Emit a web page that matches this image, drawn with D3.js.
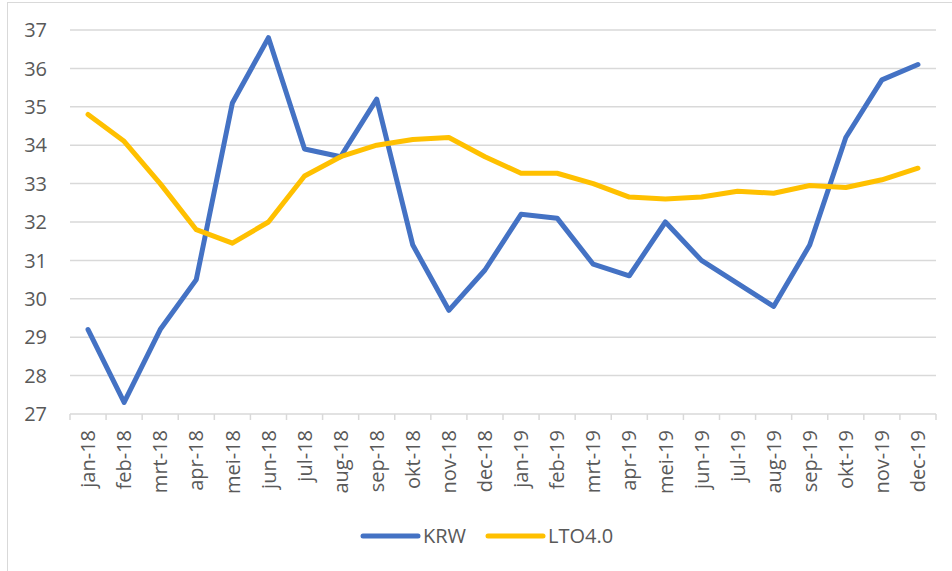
<!DOCTYPE html>
<html>
<head>
<meta charset="utf-8">
<script src="https://cdn.jsdelivr.net/npm/d3@7"></script>
<style>
  body { margin: 0; background: #fff; }
  svg text { font-family: "Open Sans", sans-serif; fill: #595959; }
</style>
</head>
<body>
<div id="chart"></div>
<script>
// months on the x axis
const months = ["jan-18","feb-18","mrt-18","apr-18","mei-18","jun-18","jul-18","aug-18","sep-18","okt-18","nov-18","dec-18",
                "jan-19","feb-19","mrt-19","apr-19","mei-19","jun-19","jul-19","aug-19","sep-19","okt-19","nov-19","dec-19"];

const krw = [29.2, 27.3, 29.2, 30.5, 35.1, 36.8, 33.9, 33.7, 35.2, 31.4, 29.7, 30.75,
             32.2, 32.1, 30.9, 30.6, 32.0, 31.0, 30.4, 29.8, 31.4, 34.2, 35.7, 36.1];

const lto = [34.8, 34.1, 33.0, 31.8, 31.45, 32.0, 33.2, 33.7, 34.0, 34.15, 34.2, 33.7,
             33.27, 33.27, 33.0, 32.65, 32.6, 32.65, 32.8, 32.75, 32.95, 32.9, 33.1, 33.4];

const yTicks = [27, 28, 29, 30, 31, 32, 33, 34, 35, 36, 37];

const series = [
    {name: "KRW", values: krw, color: "#4472C4"},
    {name: "LTO4.0", values: lto, color: "#FFC000"}
];

const width = 952, height = 571;
const margin = {top: 30, right: 16, bottom: 157, left: 70};

const svg = d3.select("#chart")
    .append("svg")
    .attr("width", width)
    .attr("height", height);

// outer chart border
svg.append("rect")
    .attr("x", 7.5).attr("y", 2.5)
    .attr("width", width).attr("height", height)
    .attr("fill", "none")
    .attr("stroke", "#d9d9d9")
    .attr("stroke-width", 1);

const x = d3.scaleBand()
    .domain(months)
    .range([margin.left, width - margin.right]);

const y = d3.scaleLinear()
    .domain([27, 37])
    .range([height - margin.bottom, margin.top]);

// gridlines
svg.append("g")
    .selectAll("line")
    .data(yTicks.slice(1))
    .enter().append("line")
    .attr("x1", margin.left).attr("x2", width - margin.right)
    .attr("y1", d => y(d)).attr("y2", d => y(d))
    .attr("stroke", "#d9d9d9")
    .attr("stroke-width", 1.5);

// y labels
svg.append("g")
    .selectAll("text")
    .data(yTicks)
    .enter().append("text")
    .attr("x", 47)
    .attr("y", d => y(d))
    .attr("dy", "0.36em")
    .attr("text-anchor", "end")
    .style("font-size", "20px")
    .text(d => d);

// x axis with ticks between categories
const base = y(27);
svg.append("line")
    .attr("x1", margin.left).attr("x2", width - margin.right)
    .attr("y1", base).attr("y2", base)
    .attr("stroke", "#d9d9d9")
    .attr("stroke-width", 1.5);

svg.append("g")
    .selectAll("line")
    .data(months.concat(["end"]))
    .enter().append("line")
    .attr("x1", (d, i) => margin.left + i * x.bandwidth())
    .attr("x2", (d, i) => margin.left + i * x.bandwidth())
    .attr("y1", base).attr("y2", base + 6)
    .attr("stroke", "#d9d9d9")
    .attr("stroke-width", 1.5);

svg.append("g")
    .selectAll("text")
    .data(months)
    .enter().append("text")
    .attr("transform", d => "translate(" + (x(d) + x.bandwidth() / 2) + "," + (base + 16) + ") rotate(-90)")
    .attr("dy", "0.36em")
    .attr("text-anchor", "end")
    .style("font-size", "20px")
    .text(d => d);

// lines
const line = d3.line()
    .x((d, i) => x(months[i]) + x.bandwidth() / 2)
    .y(d => y(d));

svg.append("g")
    .selectAll("path")
    .data(series)
    .enter().append("path")
    .attr("d", d => line(d.values))
    .attr("fill", "none")
    .attr("stroke", d => d.color)
    .attr("stroke-width", 5)
    .attr("stroke-linejoin", "round")
    .attr("stroke-linecap", "round");

// legend
const legendX = [363, 488];
const legend = svg.append("g")
    .selectAll("g")
    .data(series)
    .enter().append("g")
    .attr("transform", (d, i) => "translate(" + legendX[i] + ",536)");

legend.append("line")
    .attr("x1", 0).attr("x2", 55)
    .attr("stroke", d => d.color)
    .attr("stroke-width", 5)
    .attr("stroke-linecap", "round");

legend.append("text")
    .attr("x", 60)
    .attr("dy", "0.36em")
    .style("font-size", "20px")
    .text(d => d.name);
</script>
</body>
</html>
